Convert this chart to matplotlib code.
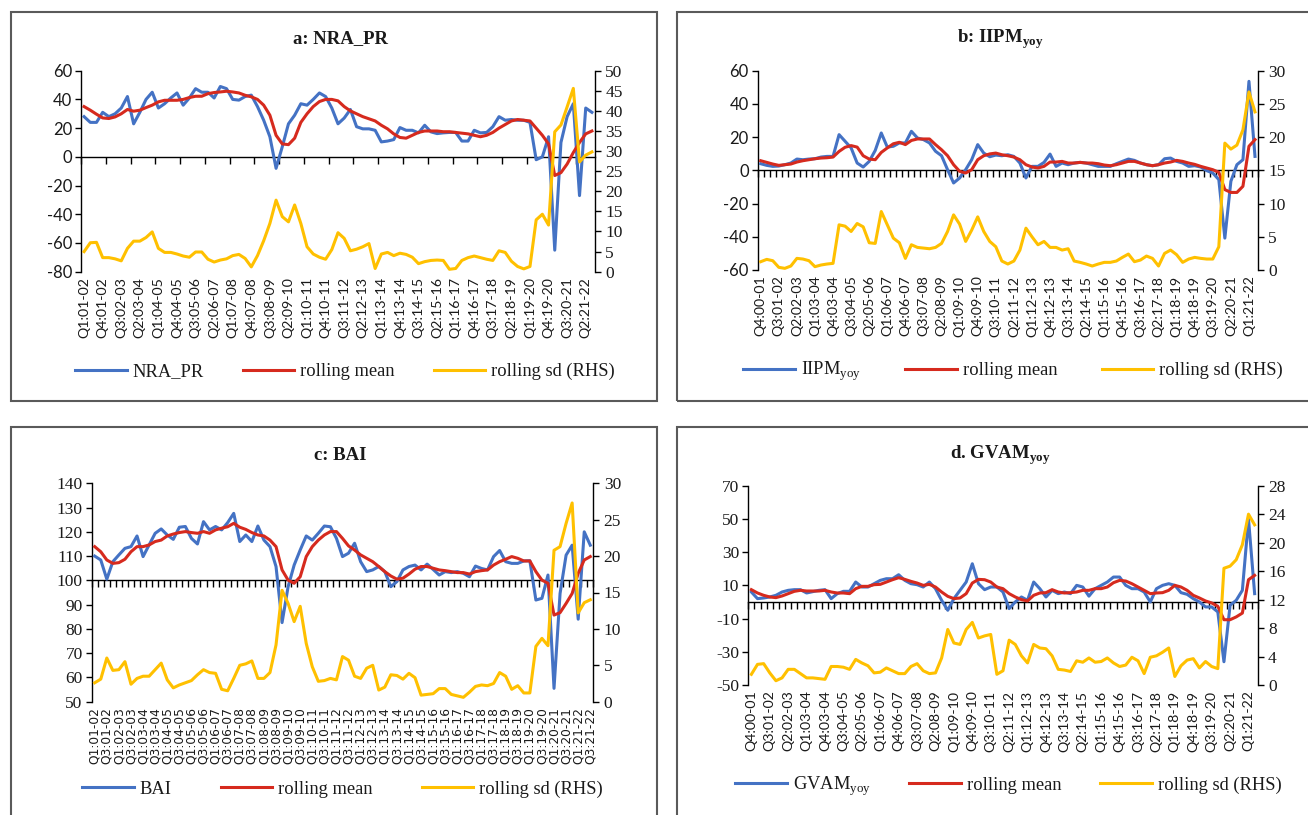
import numpy as np
import matplotlib
matplotlib.use("Agg")
import matplotlib.pyplot as plt
from matplotlib.patches import Rectangle

W, H = 1308, 815

SANS = "Lato"
SERIF = "Liberation Serif"
BLUE = "#4472C4"
RED = "#D62A1E"
YELLOW = "#FFC000"
TXT = "#1a1a1a"

plt.rcParams["axes.unicode_minus"] = False
plt.rcParams["mathtext.fontset"] = "custom"
plt.rcParams["mathtext.rm"] = SERIF
plt.rcParams["mathtext.bf"] = SERIF + ":bold"


def quarters(q, y, n):
    out = []
    for _ in range(n):
        out.append(f"Q{q}:{y:02d}-{(y + 1) % 100:02d}")
        q += 1
        if q > 4:
            q, y = 1, y + 1
    return out


# categories
QTR_A = quarters(1, 1, 83)   # Q1:01-02 .. Q3:21-22
QTR_B = quarters(4, 0, 83)   # Q4:00-01 .. Q2:21-22

# a: NRA_PR
nra = [28, 24, 24, 31, 28, 30, 34, 42, 23, 31,
       40, 45, 34, 37, 41, 44.5, 36, 41, 47.5, 45,
       45, 41, 49, 47.5, 40, 39.5, 42, 43, 35, 25.5,
       14, -8, 7, 23, 29, 37, 36, 40, 44.5, 42,
       34, 23, 27, 33, 21, 19.5, 19.5, 18.5, 10.4, 11,
       12, 20.4, 18.5, 18.5, 16.7, 22, 17.4, 16.2, 16.7, 17,
       17, 11, 11, 18.5, 16.7, 17, 21, 28, 25.5, 26,
       25.5, 25.5, 24, -2, 0, 14, -65, 10, 28, 37,
       -27, 34, 31]
nra_mean = [35, 32.5, 29.7, 27.1, 26.7, 27.8, 30, 33, 31.8, 32.5,
            34.3, 36, 38.3, 39.4, 39.4, 39.4, 40, 41.3, 42.2, 42.2,
            44, 44.8, 45.2, 45.7, 45.2, 44.5, 42.9, 41.8, 40, 36,
            29, 15, 9, 8.5, 13, 24, 30, 35, 38.5, 40,
            40, 39, 35, 32, 30, 28, 26.5, 25, 22, 19.5,
            16, 13.5, 13, 15, 17, 18, 18, 18, 17.5, 17.5,
            17, 16.5, 16, 15, 14, 15, 17, 20, 22.5, 25,
            26, 25.5, 25, 20, 15, 9, -13, -11, -5, 3,
            10, 16, 18]
nra_sd = [5.0, 7.2, 7.3, 3.5, 3.5, 3.2, 2.7, 5.8, 7.6, 7.6,
          8.5, 9.9, 5.8, 4.8, 4.8, 4.4, 3.9, 3.6, 4.9, 4.9,
          3.1, 2.4, 2.9, 3.2, 4.0, 4.3, 3.3, 1.2, 4.0, 7.7,
          12.0, 17.8, 13.7, 12.4, 16.6, 12.0, 6.2, 4.4, 3.6, 3.1,
          5.5, 9.7, 8.3, 5.2, 5.6, 6.2, 7.0, 0.8, 4.4, 4.8,
          4.0, 4.6, 4.3, 3.6, 2.0, 2.5, 2.8, 2.9, 2.8, 0.6,
          0.8, 2.8, 3.5, 3.9, 3.5, 3.1, 2.8, 5.2, 4.8, 2.6,
          1.3, 0.7, 1.3, 12.9, 14.3, 11.6, 34.8, 36.5, 41.0, 45.6,
          27.3, 29.0, 29.8]

# b: IIPM yoy
iipm = [4, 3, 2.4, 2.6, 3.4, 4.4, 6.8, 6.4, 6.8, 7,
        8, 8.4, 8.4, 21.5, 17.5, 13.5, 4.4, 2, 5.4, 12,
        22.5, 14, 14.5, 16.5, 16.5, 23.5, 19.5, 18.5, 16.5, 11.5,
        8.8, 0.4, -7.6, -4.6, 0.4, 6.4, 15.5, 10.4, 8.2, 9.2,
        8.8, 9.4, 8.4, 4.4, -4.6, 2.4, 2.4, 4.8, 9.8, 2.4,
        4.4, 3.4, 4.4, 4.8, 4.4, 3.4, 2.4, 2.4, 2.4, 4,
        5.4, 6.8, 6, 4.4, 3.4, 2.8, 3.4, 7, 7.4, 5.4,
        4.4, 2.4, 2.8, 2, -0.2, -1.6, -5.6, -40.8, -6.6, 3.4,
        6.4, 53.6, 8.4]
iipm_mean = [5.8, 4.8, 3.8, 3, 3.4, 3.8, 5, 5.8, 6.4, 7,
             7.4, 7.6, 8, 11.4, 13.9, 14.9, 14, 8.8, 6.8, 6.4,
             10.8, 13.5, 16, 16.9, 15.5, 18, 18.9, 18.9, 18.9, 15.5,
             12.4, 8.8, 3.4, -0.6, -1.6, 0.4, 6.4, 8.8, 9.9, 10.4,
             9.4, 8.8, 8, 6.4, 3.4, 2, 1.4, 2.4, 5, 5,
             5.4, 4.4, 4.4, 4.8, 4.4, 4.4, 4, 3.2, 2.8, 3.4,
             4.4, 5.4, 5.4, 4.4, 3.4, 2.8, 3.4, 4.4, 5, 6,
             5.4, 4.4, 3.6, 2.4, 1.4, 0.4, -1.2, -11.6, -13.3, -13.3,
             -9.6, 14.5, 18.5]
iipm_sd = [1.25, 1.6, 1.4, 0.4, 0.25, 0.6, 1.75, 1.65, 1.4, 0.5,
           0.75, 0.9, 1.0, 6.8, 6.6, 5.8, 7, 6.5, 4.1, 4.0,
           8.8, 6.8, 4.8, 4.1, 1.75, 3.8, 3.4, 3.3, 3.2, 3.4,
           4.0, 5.8, 8.3, 6.9, 4.3, 6.0, 8.0, 5.8, 4.3, 3.5,
           1.35, 0.9, 1.35, 3, 6.3, 5, 3.8, 4.3, 3.4, 3.4,
           3, 3.2, 1.35, 1.15, 0.9, 0.6, 0.9, 1.15, 1.15, 1.35,
           1.9, 2.4, 1.25, 1.5, 2.1, 1.75, 0.6, 2.5, 3, 2.3,
           1.15, 1.65, 1.9, 1.75, 1.65, 1.65, 3.5, 19.1, 18.2, 18.8,
           21.1, 26.8, 23.8]

# c: BAI
bai = [110, 108.4, 100.5, 107.7, 110.5, 113.2, 113.9, 118.3, 109.8, 114.6,
       119.4, 121.2, 118.7, 116.9, 121.9, 122.2, 117.3, 115, 124.2, 120.8,
       122.2, 120.8, 123.8, 127.6, 116, 118.7, 116, 122.4, 116.6, 113.9,
       105.7, 82.6, 97.4, 106.3, 112.5, 118.3, 116.6, 119.4, 122.4, 122.1,
       117.3, 109.8, 111.2, 115.3, 107.7, 103.6, 104.3, 105.7, 103.6, 97.4,
       99.5, 104.3, 105.7, 106.3, 104.3, 106.7, 104.5, 102.2, 103.6, 103.2,
       103.6, 102.9, 101.5, 105.9, 104.9, 104.3, 109.8, 112.3, 107.7, 107,
       107, 108, 108.1, 91.9, 92.6, 102.2, 55.5, 94.6, 110.4, 114.5,
       84, 120, 114.5]
bai_mean = [113.9, 111.8, 108.4, 107, 107.3, 108.7, 111.8, 113.9, 113.9, 114.6,
            116, 116.6, 118.3, 119.1, 119.7, 120.1, 119.7, 119.4, 120.1, 119.4,
            120.8, 121.5, 122.1, 123.5, 121.9, 121, 119.7, 118.7, 118.3, 116.6,
            113.9, 104.3, 100.1, 98.8, 101.5, 109.8, 113.9, 116.6, 118.7, 120.1,
            120.1, 117.3, 114.2, 112.5, 110.5, 109.1, 107.7, 105.7, 103.6, 101.8,
            100.5, 100.9, 102.6, 104.6, 105.7, 105.7, 105, 104.3, 104, 103.6,
            103.2, 103.2, 102.6, 103.6, 104, 104.3, 106.3, 107.7, 108.7, 109.8,
            109.1, 108, 108, 103.6, 100.1, 98.8, 85.7, 86.7, 90.5, 94.6,
            102.9, 108.4, 109.8]
bai_sd = [2.6, 3.1, 6.0, 4.3, 4.4, 5.5, 2.4, 3.2, 3.5, 3.5,
          4.4, 5.3, 3.0, 1.9, 2.3, 2.6, 2.9, 3.7, 4.4, 4.0,
          3.9, 1.7, 1.5, 3.2, 5.0, 5.2, 5.6, 3.2, 3.2, 4.0,
          7.8, 15.3, 13.5, 11, 13.1, 8.0, 4.8, 2.8, 2.9, 3.2,
          3.0, 6.2, 5.7, 3.5, 3.2, 4.6, 5.0, 1.6, 2.0, 3.7,
          3.6, 3.1, 3.9, 3.3, 0.9, 1.0, 1.1, 1.8, 1.8, 1.0,
          0.8, 0.6, 1.3, 2.1, 2.3, 2.2, 2.5, 4.0, 3.5, 1.7,
          2.2, 1.2, 1.2, 7.6, 8.7, 7.7, 20.8, 21.3, 24.5, 27.3,
          12.2, 13.6, 14.0]

# d: GVAM yoy
gvam = [6, 2, 2.4, 3, 4, 6, 7, 7.4, 7.4, 5.4,
        6.2, 7, 7.4, 2, 5, 6.4, 6.4, 12, 9, 9,
        11, 13, 14, 14, 16.4, 13, 11, 10.4, 9, 12,
        8, 1, -5, 2, 7, 12, 23, 11, 7.4, 9,
        9, 6, -4, 0, 3, 1, 12, 8, 3, 7,
        5, 6, 5, 10, 9, 3.5, 8, 10, 12, 15,
        15, 10, 8, 8, 6, 0, 8, 10, 11, 10,
        5.6, 4.6, 2, 0, -3, -3, -6, -36, -2, 1,
        7, 50, 5]
gvam_mean = [7.4, 5.4, 4, 3, 2.6, 3.6, 5, 6.4, 7, 6.6,
             6.6, 6.6, 7, 6, 5.4, 5.4, 5, 8, 9.4, 9.4,
             10.4, 10.6, 12, 13.4, 14.6, 13.6, 12.4, 11.4, 10, 10.6,
             9, 6, 3.4, 2, 2.4, 5, 11.4, 13.6, 13.4, 12,
             9, 8, 5, 3, 1.4, 0.6, 4, 5.4, 5.6, 7.4,
             6, 5.4, 5.6, 6, 7, 7, 8, 8, 9, 11.6,
             13, 12.6, 11, 9, 7, 5, 5.4, 5.6, 7, 10,
             9, 7, 4, 2.4, 0.6, -0.6, -2.6, -10.7, -10.7, -9,
             -6.7, 13.4, 16]
gvam_sd = [1.5, 2.9, 3.0, 1.7, 0.6, 1.0, 2.2, 2.2, 1.6, 1.0,
           1.0, 0.9, 0.8, 2.6, 2.6, 2.5, 2.2, 3.6, 3.1, 2.7,
           1.7, 1.8, 2.4, 2.0, 1.6, 1.6, 2.6, 3.0, 2.0, 1.6,
           1.7, 3.8, 7.8, 5.9, 5.7, 7.8, 8.8, 6.6, 6.9, 7.1,
           1.5, 2.0, 6.3, 5.7, 4.1, 3.1, 5.7, 5.2, 5.1, 4.1,
           2.2, 2.1, 1.9, 3.4, 3.2, 3.8, 3.2, 3.3, 3.8, 3.1,
           2.6, 2.8, 3.9, 3.4, 1.6, 3.9, 4.1, 4.6, 5.2, 1.2,
           2.7, 3.5, 3.7, 2.4, 3.3, 2.6, 2.3, 16.4, 16.7, 17.6,
           19.7, 24, 22.5]


def px_axes(fig, x0, y0, x1, y1):
    return fig.add_axes([x0 / W, 1 - y1 / H, (x1 - x0) / W, (y1 - y0) / H])


def panel(fig, rect, main, mean, sd, cats, left, right, cross,
          tick_step, lab_step, left_font, lab_font, lab_size):
    ax = px_axes(fig, *rect)
    x = np.arange(len(main))
    l1, = ax.plot(x, main, color=BLUE, lw=2.2, zorder=3)
    l2, = ax.plot(x, mean, color=RED, lw=2.2, zorder=3)
    ax2 = ax.twinx()
    l3, = ax2.plot(x, sd, color=YELLOW, lw=2.2)

    n = len(main)
    ax.set_xlim(-0.5, n - 0.5)
    ax.set_ylim(left[0], left[-1])
    ax.set_yticks(left)
    ax2.set_ylim(right[0], right[-1])
    ax2.set_yticks(right)

    for s in ["top", "right"]:
        ax.spines[s].set_visible(False)
    for s in ["top", "left", "bottom"]:
        ax2.spines[s].set_visible(False)
    ax.spines["bottom"].set_position(("data", cross))
    for sp in [ax.spines["left"], ax.spines["bottom"], ax2.spines["right"]]:
        sp.set_color("black")
        sp.set_linewidth(1.0)

    ax.set_xticks(np.arange(-0.5, n, tick_step))
    ax.tick_params(axis="x", direction="out", length=5, width=1,
                   color="black", labelbottom=False)
    ax.tick_params(axis="y", direction="out", length=4.5, width=1, pad=2,
                   labelsize=12 if left_font == SANS else 12.5,
                   labelfontfamily=left_font, labelcolor=TXT)
    ax2.tick_params(axis="y", direction="out", length=4.5, width=1, pad=3,
                    labelsize=12.5, labelfontfamily=SERIF, labelcolor=TXT)

    sec = ax.secondary_xaxis("bottom")
    pos = x[::lab_step]
    sec.set_xticks(pos, [cats[i] for i in pos], rotation=90)
    sec.tick_params(length=0, pad=4, labelsize=lab_size,
                    labelfontfamily=lab_font, labelcolor=TXT)
    sec.spines["bottom"].set_visible(False)
    return [l1, l2, l3]


fig = plt.figure(figsize=(W / 100, H / 100), dpi=100)

for bx in [(11, 12, 657, 401), (677, 12, 1330, 401),
           (11, 427, 657, 840), (677, 427, 1330, 840)]:
    fig.patches.append(Rectangle((bx[0] / W, 1 - bx[3] / H),
                                 (bx[2] - bx[0]) / W, (bx[3] - bx[1]) / H,
                                 transform=fig.transFigure, fill=False,
                                 edgecolor="#5a5a5a", lw=1.5))

ha = panel(fig, (81, 70.7, 595, 271.7), nra, nra_mean, nra_sd, QTR_A,
           [-80, -60, -40, -20, 0, 20, 40, 60], list(range(0, 51, 5)), 0,
           4, 3, SANS, SANS, 10.2)
hb = panel(fig, (757.7, 70.7, 1258, 270), iipm, iipm_mean, iipm_sd, QTR_B,
           [-60, -40, -20, 0, 20, 40, 60], list(range(0, 31, 5)), 0,
           1, 3, SANS, SANS, 10.2)
hc = panel(fig, (91.7, 483.3, 593.3, 701.7), bai, bai_mean, bai_sd, QTR_A,
           list(range(50, 141, 10)), list(range(0, 31, 5)), 100,
           1, 2, SERIF, "DejaVu Sans", 8.8)
hd = panel(fig, (748.3, 485.7, 1257.7, 685), gvam, gvam_mean, gvam_sd, QTR_B,
           [-50, -30, -10, 10, 30, 50, 70], list(range(0, 29, 4)), 0,
           1, 3, SERIF, SANS, 10.2)

title_kw = dict(fontfamily=SERIF, fontweight="bold", fontsize=13.5,
                ha="center", va="baseline", color=TXT)
fig.text(340.5 / W, 1 - 43 / H, "a: NRA_PR", **title_kw)
fig.text(1000 / W, 1 - 43 / H, r"b: IIPM$_{\mathbf{yoy}}$", **title_kw)
fig.text(340 / W, 1 - 460 / H, "c: BAI", **title_kw)
fig.text(1000 / W, 1 - 459 / H, r"d. GVAM$_{\mathbf{yoy}}$", **title_kw)

leg_kw = dict(loc="center left", ncol=3, frameon=False,
              prop={"family": SERIF, "size": 13.3}, handlelength=2.8,
              handletextpad=0.32, borderpad=0, borderaxespad=0,
              labelcolor=TXT)
fig.legend(ha, ["NRA_PR", "rolling mean", "rolling sd (RHS)"],
           bbox_to_anchor=(75 / W, 1 - 371.7 / H), columnspacing=2.1, **leg_kw)
fig.legend(hb, [r"IIPM$_{\mathrm{yoy}}$", "rolling mean", "rolling sd (RHS)"],
           bbox_to_anchor=(743 / W, 1 - 371.7 / H), columnspacing=2.4, **leg_kw)
fig.legend(hc, ["BAI", "rolling mean", "rolling sd (RHS)"],
           bbox_to_anchor=(82 / W, 1 - 789 / H), columnspacing=2.65, **leg_kw)
fig.legend(hd, [r"GVAM$_{\mathrm{yoy}}$", "rolling mean", "rolling sd (RHS)"],
           bbox_to_anchor=(735 / W, 1 - 786 / H), columnspacing=2.1, **leg_kw)

fig.savefig("out.png", dpi=100)
